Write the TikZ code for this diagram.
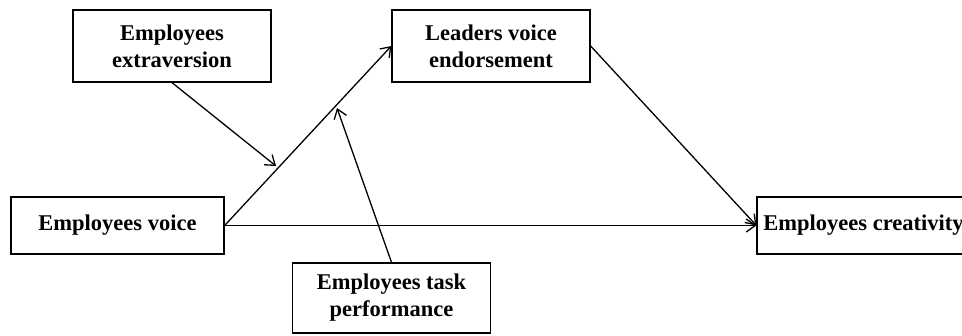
\documentclass[tikz,border=0pt]{standalone}
\usepackage{fontspec}
\setmainfont{Liberation Serif}
\usetikzlibrary{arrows.meta}
\begin{document}
\begin{tikzpicture}[x=1pt,y=-1pt,
  box/.style={draw,line width=1.3pt,rectangle,inner sep=0pt,align=center,
    font=\fontsize{22.5}{27}\selectfont\bfseries},
  link/.style={line width=1.3pt,-{Straight Barb[length=9pt,width=13pt,line width=1.3pt]}}]
\useasboundingbox (0,0) rectangle (962,335);
\clip (0,0) rectangle (962,335);
\fill[white] (0,0) rectangle (962,335);
\node[box,minimum width=198pt,minimum height=72pt] (ext) at (172,46) {Employees\\extraversion};
\node[box,minimum width=198pt,minimum height=72pt] (lead) at (491,46) {Leaders voice\\endorsement};
\node[box,minimum width=213pt,minimum height=57pt] (voice) at (117.5,225.5) {Employees voice};
\node[box,minimum width=213pt,minimum height=57pt] (crea) at (863.5,225.5) {Employees creativity};
\node[box,minimum width=198pt,minimum height=70pt] (task) at (391.5,298) {Employees task\\performance};
\coordinate (m1) at (276,166);
\coordinate (m2) at (337,108);
\draw[link] (voice.east) -- (lead.west);
\draw[link] (voice.east) -- (crea.west);
\draw[link] (lead.east) -- (crea.west);
\draw[link] (ext.south) -- (m1);
\draw[link] (task.north) -- (m2);
\end{tikzpicture}
\end{document}
